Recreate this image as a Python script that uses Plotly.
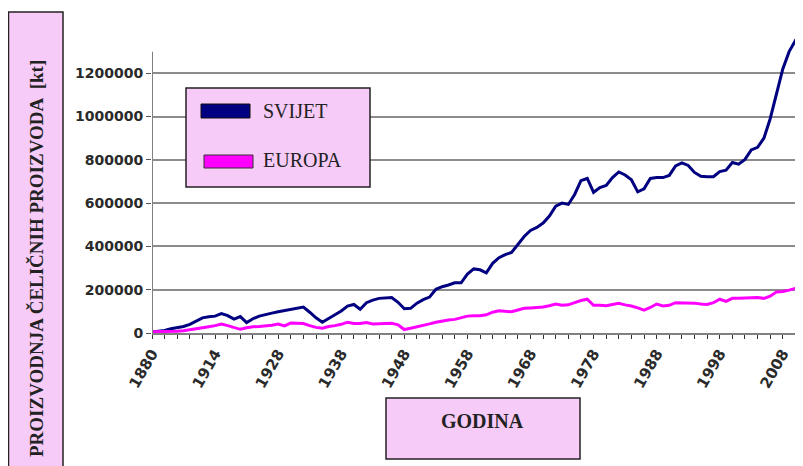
import plotly.graph_objects as go

# category positions (one per data column of the original sheet), labels every 10th column
tick_pos = [0, 10, 20, 30, 40, 50, 60, 70, 80, 90, 100]
tick_text = ["1880", "1914", "1928", "1938", "1948", "1958", "1968", "1978", "1988", "1998", "2008"]

svijet = [
    5000, 8000, 12000, 20000, 24000, 30000, 40000, 55000, 70000, 75000,
    78000, 90000, 80000, 64000, 76000, 48000, 66000, 78000, 86000, 92000,
    98000, 104000, 110000, 116000, 120000, 96000, 70000, 50000, 66000, 84000,
    102000, 124000, 132000, 110000, 140000, 152000, 160000, 163000, 164000, 142000,
    112000, 114000, 138000, 154000, 166000, 202000, 214000, 222000, 232000, 232000,
    272000, 296000, 292000, 278000, 322000, 348000, 362000, 372000, 408000, 446000,
    474000, 488000, 508000, 540000, 586000, 600000, 594000, 640000, 704000, 714000,
    650000, 672000, 682000, 718000, 744000, 730000, 708000, 652000, 666000, 714000,
    718000, 718000, 728000, 772000, 786000, 774000, 742000, 724000, 722000, 722000,
    746000, 752000, 788000, 780000, 802000, 846000, 858000, 900000, 990000, 1110000,
    1220000, 1300000, 1352000, 1338000,
]
europa = [
    6000, 6000, 6000, 6000, 8000, 10000, 14000, 20000, 25000, 29000,
    34000, 41000, 34000, 24000, 17000, 24000, 29000, 30000, 32000, 36000,
    41000, 33000, 46000, 46000, 44000, 34000, 26000, 22000, 30000, 34000,
    40000, 50000, 44000, 44000, 48000, 42000, 44000, 44000, 45000, 38000,
    16000, 22000, 28000, 35000, 42000, 50000, 56000, 60000, 63000, 70000,
    78000, 80000, 80000, 84000, 96000, 103000, 100000, 98000, 106000, 114000,
    116000, 118000, 120000, 126000, 134000, 128000, 130000, 140000, 150000, 156000,
    128000, 128000, 126000, 132000, 137000, 130000, 125000, 116000, 106000, 118000,
    134000, 125000, 128000, 140000, 140000, 140000, 138000, 134000, 132000, 140000,
    156000, 146000, 160000, 160000, 162000, 165000, 164000, 160000, 170000, 190000,
    192000, 198000, 206000, 206000,
]
y_ticks = [0, 200000, 400000, 600000, 800000, 1000000, 1200000]

# page has an 8px body margin, so the figure is 8px smaller than the window
OFF = 8
W, H = 795, 458
L, R, T, B = 144, 0, 22, 133
PINK = "#F7CBF7"
SERIF = "Liberation Serif"
SANS = "DejaVu Sans"


def px(x):
    return (x - OFF - L) / (W - L - R)


def py(y):
    return (H - B - (y - OFF)) / (H - B - T)


x = list(range(len(svijet)))

fig = go.Figure()
fig.add_trace(go.Scatter(x=x, y=svijet, mode="lines", name="SVIJET",
                         line=dict(color="#000080", width=3)))
fig.add_trace(go.Scatter(x=x, y=europa, mode="lines", name="EUROPA",
                         line=dict(color="#FF00FF", width=3)))

shapes = [
    # y axis line stops short of the top
    dict(type="line", xref="x", yref="y", x0=0, x1=0, y0=0, y1=1300000,
         line=dict(color="#808080", width=2)),
    # y title box
    dict(type="rect", xref="paper", yref="paper", x0=px(8.5), x1=px(63), y0=py(12), y1=py(470),
         fillcolor=PINK, line=dict(color="#222222", width=1.5), layer="below"),
    # legend box
    dict(type="rect", xref="paper", yref="paper", x0=px(186), x1=px(370), y0=py(88), y1=py(187),
         fillcolor=PINK, line=dict(color="#222222", width=1.5)),
    dict(type="rect", xref="paper", yref="paper", x0=px(201), x1=px(250), y0=py(104), y1=py(118),
         fillcolor="#000080", line=dict(color="#111111", width=1)),
    dict(type="rect", xref="paper", yref="paper", x0=px(204), x1=px(253), y0=py(155), y1=py(168),
         fillcolor="#FF00FF", line=dict(color="#333333", width=1)),
    # x title box
    dict(type="rect", xref="paper", yref="paper", x0=px(386), x1=px(580), y0=py(398), y1=py(459),
         fillcolor=PINK, line=dict(color="#222222", width=1.5)),
]

annotations = [
    dict(text="PROIZVODNJA ČELIČNIH PROIZVODA  [kt]", textangle=-90, xref="paper", yref="paper",
         x=px(37), y=py(259), showarrow=False, xanchor="center", yanchor="middle",
         font=dict(family=SERIF, size=19, color="#222222", weight="bold")),
    dict(text="SVIJET", xref="paper", yref="paper", x=px(261), y=py(111), showarrow=False,
         xanchor="left", yanchor="middle", font=dict(family=SERIF, size=20, color="#222222")),
    dict(text="EUROPA", xref="paper", yref="paper", x=px(261), y=py(160), showarrow=False,
         xanchor="left", yanchor="middle", font=dict(family=SERIF, size=20, color="#222222")),
    dict(text="GODINA", xref="paper", yref="paper", x=px(483), y=py(421), showarrow=False,
         xanchor="center", yanchor="middle",
         font=dict(family=SERIF, size=20, color="#222222", weight="bold")),
]

fig.update_layout(
    width=W, height=H,
    margin=dict(l=L, r=R, t=T, b=B),
    paper_bgcolor="white", plot_bgcolor="white",
    showlegend=False,
    shapes=shapes,
    annotations=annotations,
)
fig.update_xaxes(
    range=[0, 103.2], tickmode="array", tickvals=tick_pos, ticktext=tick_text,
    tickangle=-60, ticks="outside", ticklen=4, tickcolor="#333333", tickwidth=1,
    minor=dict(dtick=2, tick0=0, ticks="outside", ticklen=4, tickcolor="#333333", tickwidth=1),
    showgrid=False, showline=True, linecolor="#808080", linewidth=2, zeroline=False,
    tickfont=dict(family=SANS, size=15, color="#2a2a2a", weight="bold"),
)
fig.update_yaxes(
    range=[0, 1400000], tickmode="array", tickvals=y_ticks, ticktext=[str(v) for v in y_ticks],
    ticks="outside", ticklen=5, tickcolor="#555555",
    showgrid=True, gridcolor="#8C8C8C", gridwidth=2, showline=False, zeroline=False,
    tickfont=dict(family=SANS, size=14, color="#2a2a2a", weight="bold"),
)

fig.write_html("out.html")
